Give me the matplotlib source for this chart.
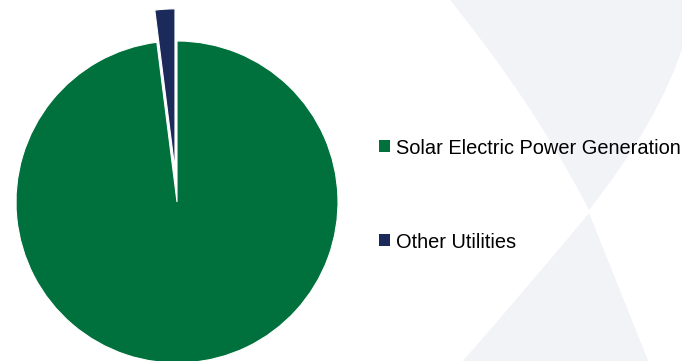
import matplotlib
matplotlib.use("Agg")
import matplotlib.pyplot as plt
from matplotlib.patches import PathPatch, Patch
from matplotlib.path import Path

GREEN = "#00703C"
NAVY = "#1B2A5A"
BG = "#F2F3F7"

labels = ["Solar Electric Power Generation", "Other Utilities"]
values = [98.0, 2.0]
colors = [GREEN, NAVY]
explode = [0, 0.2]

W, H = 682, 361
fig = plt.figure(figsize=(W / 100, H / 100), dpi=100)

# background decoration in pixel coords
bg = fig.add_axes([0, 0, 1, 1])
bg.set_xlim(0, W); bg.set_ylim(H, 0); bg.axis("off")
M, L2, CU = Path.MOVETO, Path.LINETO, Path.CURVE3
upper = Path([(450, 0), (W + 2, 0), (W + 2, 43), (660, 120), (589, 210),
              (535, 105), (450, 0), (450, 0)],
             [M, L2, L2, CU, CU, CU, CU, Path.CLOSEPOLY])
lower = Path([(589, 213), (528, 287), (461, H + 2), (649, H + 2),
              (589, 213), (589, 213)],
             [M, CU, CU, L2, L2, Path.CLOSEPOLY])
for p in (upper, lower):
    bg.add_patch(PathPatch(p, fc=BG, ec="none"))

# pie: center (177,202) px, radius 161 px
R = 1.3
rp = 161
ax = fig.add_axes([(177 - R * rp) / W, (H - 202 - R * rp) / H,
                   2 * R * rp / W, 2 * R * rp / H])
ax.pie(values, colors=colors, explode=explode, startangle=90, counterclock=False,
       wedgeprops=dict(edgecolor="white", linewidth=0.8))
ax.set_xlim(-R, R); ax.set_ylim(-R, R)
ax.set_aspect("auto")

handles = [Patch(fc=c, ec="none") for c in colors]
fig.legend(handles, labels, loc="center left", bbox_to_anchor=(379 / W, (H - 195) / H),
           frameon=False, borderpad=0, borderaxespad=0, handlelength=0.55, handleheight=0.55,
           handletextpad=0.3, labelspacing=3.75,
           prop=dict(family="Liberation Sans", size=14.4))

fig.savefig("out.png", dpi=100, facecolor="white")
